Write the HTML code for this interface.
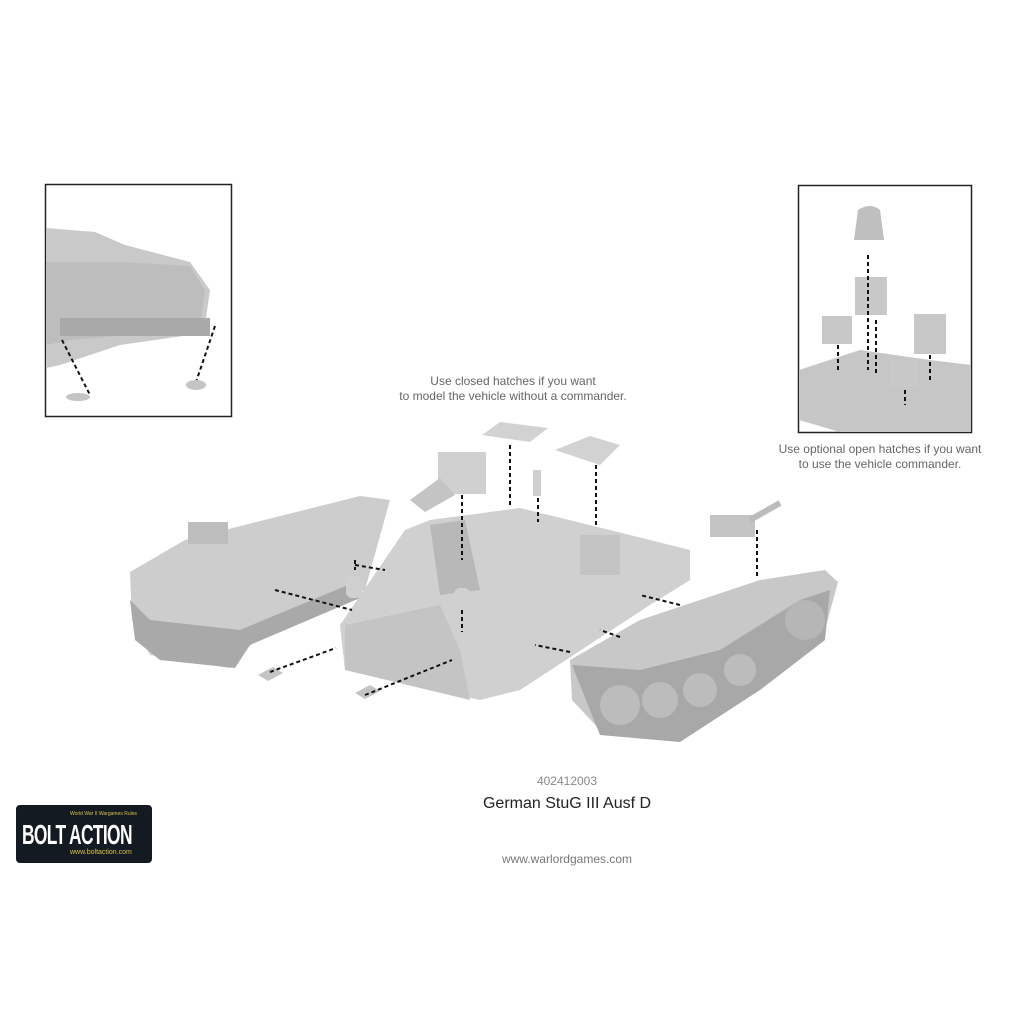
<!DOCTYPE html>
<html><head><style>
html,body{margin:0;padding:0;background:#fff;width:1024px;height:1024px;overflow:hidden;font-family:"Liberation Sans",sans-serif}
.t{position:absolute;text-align:center;color:#666;white-space:nowrap}
</style></head><body>
<svg width="1024" height="1024" style="position:absolute;left:0;top:0">
<rect x="45.5" y="184.5" width="186" height="232" fill="#fff" stroke="#222" stroke-width="1.5"/>
<polygon points="46,228 95,232 125,245 190,262 210,290 205,325 190,335 120,345 60,365 46,368" fill="#c9c9c9"/>
<polygon points="46,262 120,262 190,266 205,290 200,325 130,335 70,340 46,345" fill="#bdbdbd"/>
<rect x="60" y="318" width="150" height="18" fill="#a9a9a9"/>
<path d="M62 340 L90 395 M215 326 L195 385" stroke="#111" stroke-width="2" stroke-dasharray="4,3"/>
<ellipse cx="78" cy="397" rx="12" ry="4" fill="#c4c4c4"/>
<ellipse cx="196" cy="385" rx="10" ry="5" fill="#c4c4c4"/>
<rect x="798.5" y="185.5" width="173" height="247" fill="#fff" stroke="#222" stroke-width="1.5"/>
<polygon points="799,370 860,350 930,360 971,365 971,432 840,432 799,420" fill="#c6c6c6"/>
<path d="M858 210 q12 -8 22 0 l4 30 l-30 0 z" fill="#bfbfbf"/>
<rect x="855" y="277" width="32" height="38" fill="#c8c8c8"/>
<rect x="822" y="316" width="30" height="28" fill="#c8c8c8"/>
<rect x="914" y="314" width="32" height="40" fill="#c8c8c8"/>
<rect x="890" y="360" width="28" height="28" fill="#c8c8c8"/>
<path d="M868 255 V370 M876 320 V375 M838 345 V372 M930 355 V380 M905 390 V405" stroke="#111" stroke-width="2" stroke-dasharray="4,3"/>
<polygon points="130,572 185,540 360,496 390,500 365,590 255,640 230,668 150,655 132,620" fill="#cdcdcd"/>
<polygon points="130,600 135,640 160,660 235,668 250,645 360,598 360,580 240,630 150,620" fill="#a9a9a9"/>
<rect x="188" y="522" width="40" height="22" fill="#bdbdbd"/>
<polygon points="340,625 405,530 430,520 520,508 610,530 690,550 690,580 650,605 520,690 480,700 345,670" fill="#d0d0d0"/>
<polygon points="345,625 440,605 460,650 470,700 345,670" fill="#c4c4c4"/>
<polygon points="430,525 465,520 480,590 440,595" fill="#b8b8b8"/>
<rect x="580" y="535" width="40" height="40" fill="#c4c4c4"/>
<polygon points="570,660 640,620 760,580 825,570 838,582 825,630 700,720 680,742 600,730 572,700" fill="#c8c8c8"/>
<polygon points="572,665 600,735 680,742 760,690 825,640 830,590 800,600 720,650 640,670" fill="#a8a8a8"/>
<circle cx="620" cy="705" r="20" fill="#bcbcbc"/><circle cx="660" cy="700" r="18" fill="#bcbcbc"/>
<circle cx="700" cy="690" r="17" fill="#bcbcbc"/><circle cx="740" cy="670" r="16" fill="#bcbcbc"/>
<circle cx="805" cy="620" r="20" fill="#b6b6b6"/>
<polygon points="482,435 500,422 548,428 530,442" fill="#d2d2d2"/>
<polygon points="555,450 590,436 620,445 600,465" fill="#d2d2d2"/>
<rect x="438" y="452" width="48" height="42" fill="#d0d0d0"/>
<polygon points="410,500 440,478 455,495 425,512" fill="#c4c4c4"/>
<rect x="533" y="470" width="8" height="26" fill="#cfcfcf"/>
<rect x="710" y="515" width="45" height="22" fill="#c4c4c4"/>
<path d="M750 520 L780 503" stroke="#bbb" stroke-width="6"/>
<rect x="346" y="576" width="16" height="22" rx="6" fill="#d0d0d0"/>
<rect x="454" y="588" width="16" height="22" rx="6" fill="#d0d0d0"/>
<path d="M258 675 l15 -8 l10 6 l-15 8z M355 693 l15 -8 l10 6 l-15 8z" fill="#c4c4c4"/>
<g stroke="#111" stroke-width="2" stroke-dasharray="4,3" fill="none">
<path d="M510 445 V505 M596 465 V528 M538 498 V522 M462 495 V560 M462 610 V632 M757 530 V578 M355 560 V570"/>
<path d="M275 590 L352 610 M355 565 L385 570 M270 672 L336 648 M365 695 L452 660 M680 605 L640 595 M570 652 L535 645 M620 637 L600 630"/>
</g>
</svg>
<div class="t" style="left:363px;top:374px;width:300px;font-size:12px;line-height:15px">Use closed hatches if you want<br>to model the vehicle without a commander.</div>
<div class="t" style="left:750px;top:442px;width:260px;font-size:12px;line-height:15px">Use optional open hatches if you want<br>to use the vehicle commander.</div>
<div class="t" style="left:467px;top:774px;width:200px;font-size:12px;color:#888">402412003</div>
<div class="t" style="left:417px;top:795px;width:300px;font-size:16px;color:#222">German StuG III Ausf D</div>
<div class="t" style="left:417px;top:852px;width:300px;font-size:12px;color:#777">www.warlordgames.com</div>
<div style="position:absolute;left:16px;top:805px;width:136px;height:58px;background:#141a22;border-radius:4px;overflow:hidden">
<div style="position:absolute;left:6px;top:14px;color:#fff;font-weight:bold;font-size:28px;white-space:nowrap;letter-spacing:-1px;transform:scaleX(.62);transform-origin:left">BOLT ACTION</div>
<div style="position:absolute;left:54px;top:6px;color:#d8c24a;font-size:5px;white-space:nowrap">World War II Wargames Rules</div>
<div style="position:absolute;left:54px;top:44px;color:#d8c24a;font-size:7px;white-space:nowrap">www.boltaction.com</div>
</div>
</body></html>
